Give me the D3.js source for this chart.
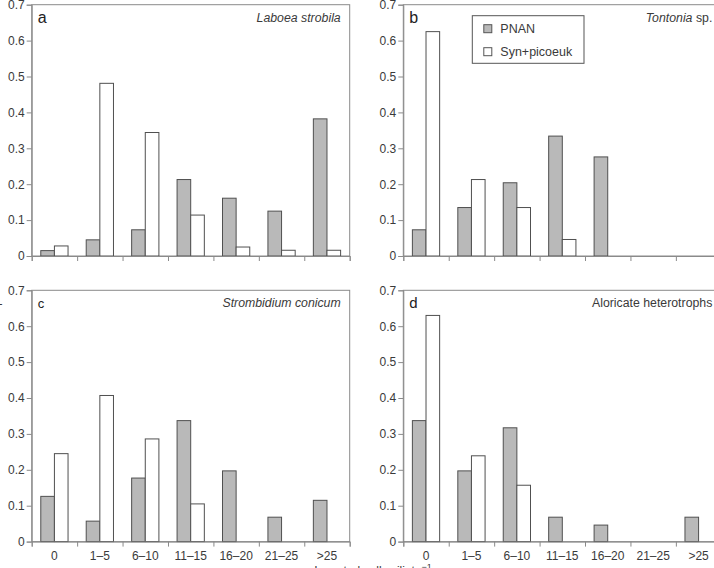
<!DOCTYPE html>
<html>
<head>
<meta charset="utf-8">
<script src="https://cdn.jsdelivr.net/npm/d3@7"></script>
<style>
	body { margin: 0; background: #fff; }
	svg { display: block; font-family: "Liberation Sans", Arial, sans-serif; }
</style>
</head>
<body>
<svg id="chart" width="714" height="568"></svg>
<script>
var categories = ['0', '1\u20135', '6\u201310', '11\u201315', '16\u201320', '21\u201325', '>25'];
var seriesNames = ['PNAN', 'Syn+picoeuk'];
var yTicks = [0, 0.1, 0.2, 0.3, 0.4, 0.5, 0.6, 0.7];

// proportions per category
var laboeaPnan = [0.015, 0.045, 0.073, 0.213, 0.161, 0.125, 0.382];
var laboeaSyn = [0.028, 0.481, 0.344, 0.114, 0.025, 0.016, 0.016];
var tontoniaPnan = [0.073, 0.135, 0.204, 0.334, 0.276, 0, 0];
var tontoniaSyn = [0.625, 0.213, 0.135, 0.046, 0, 0, 0];
var strombidiumPnan = [0.126, 0.057, 0.177, 0.337, 0.197, 0.068, 0.115];
var strombidiumSyn = [0.245, 0.407, 0.286, 0.105, 0, 0, 0];
var aloricatePnan = [0.337, 0.197, 0.317, 0.068, 0.046, 0, 0.068];
var aloricateSyn = [0.630, 0.239, 0.157, 0, 0, 0, 0];

var panels = [
	{ letter: 'a', title: [['Laboea strobila', true]], pnan: laboeaPnan, syn: laboeaSyn, left: 31.7, top: 4.7, letterSize: 16, labels: false, legend: false },
	{ letter: 'b', title: [['Tontonia', true], [' sp.', false]], pnan: tontoniaPnan, syn: tontoniaSyn, left: 403.3, top: 4.7, letterSize: 16, labels: false, legend: true },
	{ letter: 'c', title: [['Strombidium conicum', true]], pnan: strombidiumPnan, syn: strombidiumSyn, left: 31.7, top: 290.3, letterSize: 13, labels: true, legend: false },
	{ letter: 'd', title: [['Aloricate heterotrophs', false]], pnan: aloricatePnan, syn: aloricateSyn, left: 403.3, top: 290.3, letterSize: 15, labels: true, legend: false }
];

var W = 318,   // plot width
	H = 251.3; // plot height

var fills = { 'PNAN': '#b9b9b9', 'Syn+picoeuk': '#ffffff' };
var axisColor = '#8a8a8a',
	barStroke = '#505050',
	textColor = '#3a3a3a';

var svg = d3.select('#chart');

var x0 = d3.scaleBand().domain(categories).range([0, W]).padding(0);
var x1 = d3.scaleBand().domain(seriesNames).range([0, x0.bandwidth() * 0.6]).padding(0);
var xEdge = d3.scaleLinear().domain([0, categories.length]).range([0, W]);
var y = d3.scaleLinear().domain([0, 0.7]).range([H, 0]);

panels.forEach(drawPanel);

function styleAxis(g) {
	g.selectAll('path, line').attr('stroke', axisColor);
	g.selectAll('text').attr('fill', textColor).style('font-size', '12px').style('font-family', '"Liberation Sans", Arial, sans-serif');
}

function drawPanel(p) {
	var g = svg.append('g').attr('transform', 'translate(' + p.left + ',' + p.top + ')');

	// frame
	g.append('rect')
		.attr('width', W).attr('height', H)
		.attr('fill', 'none').attr('stroke', axisColor).attr('stroke-width', 1);

	// bars
	var rows = categories.map(function(c, i) {
		return { cat: c, values: [{ s: 'PNAN', v: p.pnan[i] }, { s: 'Syn+picoeuk', v: p.syn[i] }] };
	});
	var groups = g.selectAll('g.grp').data(rows).enter().append('g')
		.attr('class', 'grp')
		.attr('transform', function(d) { return 'translate(' + (x0(d.cat) + x0.bandwidth() * 0.2) + ',0)'; });
	groups.selectAll('rect')
		.data(function(d) { return d.values.filter(function(e) { return e.v > 0; }); })
		.enter().append('rect')
		.attr('x', function(d) { return x1(d.s); })
		.attr('width', x1.bandwidth())
		.attr('y', function(d) { return y(d.v); })
		.attr('height', function(d) { return H - y(d.v); })
		.attr('fill', function(d) { return fills[d.s]; })
		.attr('stroke', barStroke).attr('stroke-width', 1);

	// y axis
	g.append('g')
		.call(d3.axisLeft(y).tickValues(yTicks).tickSize(5).tickPadding(2)
			.tickFormat(function(d) { return d === 0 ? '0' : d.toFixed(1); }))
		.call(styleAxis);

	// x axis: ticks at class boundaries
	g.append('g')
		.attr('transform', 'translate(0,' + H + ')')
		.call(d3.axisBottom(xEdge).tickValues(d3.range(categories.length + 1)).tickSize(5).tickFormat(''))
		.call(styleAxis);

	if (p.labels) {
		var lab = g.append('g')
			.attr('transform', 'translate(0,' + H + ')')
			.call(d3.axisBottom(x0).tickSize(0).tickPadding(10))
			.call(styleAxis);
		lab.select('.domain').remove();
	}

	// panel letter and title
	g.append('text')
		.attr('x', 6).attr('y', 18)
		.attr('fill', '#222')
		.style('font-size', p.letterSize + 'px')
		.text(p.letter);

	var t = g.append('text')
		.attr('x', W - 9).attr('y', 17)
		.attr('text-anchor', 'end')
		.attr('fill', textColor)
		.style('font-size', '12.3px');
	p.title.forEach(function(part) {
		t.append('tspan').style('font-style', part[1] ? 'italic' : 'normal').text(part[0]);
	});

	if (p.legend) drawLegend(g);
}

function drawLegend(g) {
	var lg = g.append('g').attr('transform', 'translate(69,11)');
	lg.append('rect')
		.attr('width', 111.7).attr('height', 47.6)
		.attr('fill', '#fff').attr('stroke', '#555').attr('stroke-width', 1);
	var items = lg.selectAll('g.item').data(seriesNames).enter().append('g')
		.attr('class', 'item')
		.attr('transform', function(d, i) { return 'translate(11,' + (13 + i * 23) + ')'; });
	items.append('rect')
		.attr('x', 0.5).attr('y', -4).attr('width', 8).attr('height', 8)
		.attr('fill', function(d) { return fills[d]; })
		.attr('stroke', '#555').attr('stroke-width', 1);
	items.append('text')
		.attr('x', 17).attr('y', 4.5)
		.attr('fill', textColor)
		.style('font-size', '12.5px')
		.text(function(d) { return d; });
}

// axis titles, mostly cut off by the figure edges as in the original
svg.append('text')
	.attr('x', 373).attr('y', 575)
	.attr('text-anchor', 'middle')
	.attr('fill', textColor)
	.style('font-size', '12px')
	.text('Ingested cells ciliate')
	.append('tspan').attr('dy', -5).style('font-size', '9px').text('\u22121');

svg.append('text')
	.attr('transform', 'translate(-1,270) rotate(-90)')
	.attr('text-anchor', 'middle')
	.attr('fill', textColor)
	.style('font-size', '12px')
	.text('Proportion of ciliates');
</script>
</body>
</html>
